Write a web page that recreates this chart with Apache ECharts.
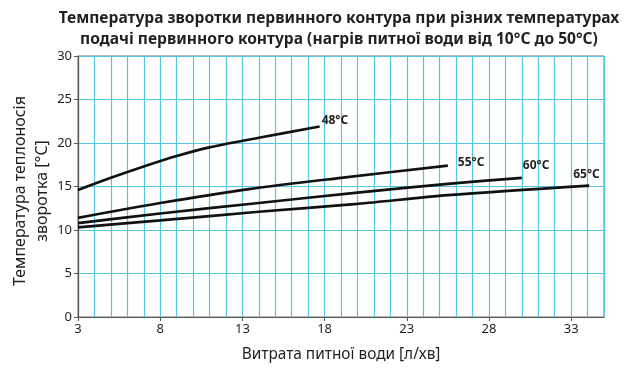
<!DOCTYPE html>
<html><head><meta charset="utf-8">
<script src="https://cdn.jsdelivr.net/npm/echarts@6/dist/echarts.min.js"></script>
<style>html,body{margin:0;padding:0;background:#fff}#c{width:638px;height:371px}</style>
</head><body><div id="c"></div>
<script>
const titleText = 'Температура зворотки первинного контура при різних температурах\nподачі первинного контура (нагрів питної води від 10°C до 50°C)';
const xName = 'Витрата питної води [л/хв]';
const yName = 'Температура теплоносія\nзворотка [°C]';
const xTickLabels = [3,8,13,18,23,28,33];
const seriesNames = ['48°C', '55°C', '60°C', '65°C'];
const s48 = [[3,14.6],[5,16.0],[7,17.3],[9,18.5],[11,19.5],[14,20.6],[17.7,21.9]];
const s55 = [[3,11.4],[8,13.1],[13.4,14.7],[19,16.0],[25.5,17.4]];
const s60 = [[3,10.8],[8,11.9],[14,13.1],[20,14.3],[25.5,15.3],[30,16.0]];
const s65 = [[3,10.3],[8,11.1],[14,12.1],[20,13.0],[25.5,14.0],[34.1,15.1]];
const seriesData = [s48, s55, s60, s65];
const labelOffsets = [[-6,-6],[2,-3],[-7,-12],[-24,-11]];

const chart = echarts.init(document.getElementById('c'), null, {renderer:'canvas'});
const fam = 'Noto Sans';
const gridColor = '#55c6e6';
chart.setOption({
  animation:false,
  grid:{left:78,right:34,top:56,bottom:54,show:true,borderColor:'#777',borderWidth:1},
  graphic:[
   {type:'text',x:339,y:29,
    style:{text:titleText,fontFamily:fam,fontWeight:'bold',fontSize:15.6,lineHeight:21,fill:'#231f20',align:'center',verticalAlign:'middle'}},
   {type:'text',x:31,y:191,rotation:Math.PI/2,
    style:{text:yName,fontFamily:fam,fontSize:16,lineHeight:22,fill:'#231f20',align:'center',verticalAlign:'middle'}}],
  xAxis:[{type:'value',min:3,max:35,interval:1,
    axisLine:{show:false},axisTick:{show:false},axisLabel:{show:false},
    splitLine:{show:true,lineStyle:{color:gridColor,width:1.2}}},
   {type:'value',min:3,max:35,position:'bottom',
    name:xName,nameLocation:'middle',nameGap:30,
    nameTextStyle:{fontFamily:fam,fontSize:15.4,color:'#231f20'},
    axisLine:{show:true,lineStyle:{color:'#555',width:1.2}},
    axisTick:{show:true,length:4,lineStyle:{color:'#555'},customValues:xTickLabels},
    axisLabel:{fontFamily:fam,fontSize:13,color:'#231f20',margin:6,customValues:xTickLabels},
    splitLine:{show:false}}],
  yAxis:{type:'value',min:0,max:30,interval:5,
    axisLine:{show:true,lineStyle:{color:'#555',width:1.2}},
    axisTick:{show:true,length:4,lineStyle:{color:'#555'}},
    axisLabel:{fontFamily:fam,fontSize:13,color:'#231f20',margin:6},
    splitLine:{show:true,lineStyle:{color:gridColor,width:1.2}}},
  series:seriesData.map((d,i)=>({
    type:'line',name:seriesNames[i],data:d,smooth:0.3,showSymbol:false,
    xAxisIndex:0,
    lineStyle:{color:'#111',width:2.7},
    endLabel:{show:true,formatter:seriesNames[i],offset:labelOffsets[i],
      fontFamily:fam,fontWeight:'bold',fontSize:12,color:'#231f20'}
  }))
});
</script></body></html>
